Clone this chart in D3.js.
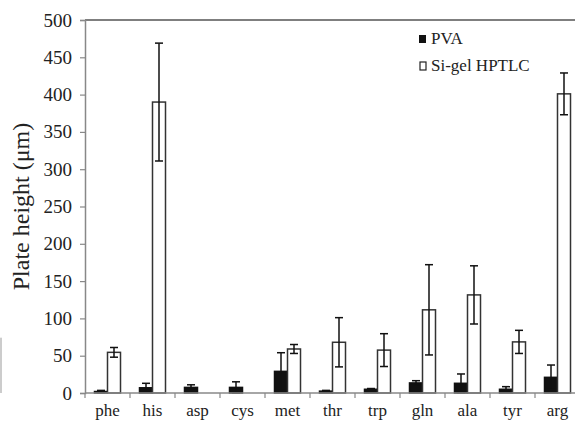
<!DOCTYPE html>
<html><head><meta charset="utf-8">
<script src="https://cdn.jsdelivr.net/npm/d3@7"></script>
<style>body{margin:0;background:#fff}svg{display:block}svg text{font-family:'Liberation Serif','Times New Roman',Times,serif;fill:#222}</style>
</head><body>
<svg id="c" width="575" height="422"></svg>
<script>
const categories = ["phe","his","asp","cys","met","thr","trp","gln","ala","tyr","arg"];
const seriesNames = ["PVA","Si-gel HPTLC"];
const pvaValues = [2, 7, 7.5, 7.5, 29, 2.5, 5, 13.5, 13, 5, 21];
const pvaErrors = [1.5, 6, 3.5, 7.5, 25, 1, 1, 3, 12.5, 3.5, 16.5];
const siValues = [54.5, 390, 0, 0, 59, 68, 57.5, 111.5, 131.5, 68.5, 401];
const siErrors = [6.5, 79, 0, 0, 6, 33, 22, 60.5, 39, 15.5, 28];
const yTicks = [0,50,100,150,200,250,300,350,400,450,500];

const FONT = "'Liberation Serif','Times New Roman',Times,serif";
const svg = d3.select("#c");
const L = 85, R = 580, T = 20, B = 393;
const x = d3.scaleBand().domain(categories).range([L, R]).paddingInner(0);
const barW = 13;
const xs = d3.scaleBand().domain(seriesNames).range([x.bandwidth()/2 - barW, x.bandwidth()/2 + barW]);
const y = d3.scaleLinear().domain([0, 500]).range([B, T]);

// frame top line
svg.append("line").attr("x1", L).attr("x2", 575).attr("y1", T).attr("y2", T)
  .attr("stroke", "#555").attr("stroke-width", 1.5);

// y axis
const ya = svg.append("g").attr("transform", `translate(${L},0)`)
  .call(d3.axisLeft(y).tickValues(yTicks).tickSize(5).tickPadding(8));
ya.attr("font-family", FONT);
ya.select(".domain").attr("stroke", "#888").attr("stroke-width", 1.5);
ya.selectAll(".tick line").attr("stroke", "#888").attr("stroke-width", 1.2);
ya.selectAll(".tick text").attr("font-size", 19).style("font-family", FONT).attr("fill", "#222");

// small artifact line at left edge
svg.append("line").attr("x1", 1).attr("x2", 1).attr("y1", y(50) - 18).attr("y2", y(0))
  .attr("stroke", "#999").attr("stroke-width", 1);

const series = [
  {name: "PVA", vals: pvaValues, errs: pvaErrors, fill: "#111", stroke: "#111"},
  {name: "Si-gel HPTLC", vals: siValues, errs: siErrors, fill: "#fff", stroke: "#333"}
];

series.forEach(s => {
  const g = svg.append("g");
  categories.forEach((c, i) => {
    const v = s.vals[i];
    if (v <= 0) return;
    const x0 = x(c) + xs(s.name);
    g.append("rect").attr("x", x0).attr("y", y(v)).attr("width", barW).attr("height", y(0) - y(v))
      .attr("fill", s.fill).attr("stroke", s.stroke).attr("stroke-width", 1.5);
  });
});

// error bars
series.forEach(s => {
  const g = svg.append("g").attr("stroke", "#111").attr("stroke-width", 1.5);
  categories.forEach((c, i) => {
    const v = s.vals[i], e = s.errs[i];
    if (v <= 0 || e <= 0) return;
    const cx = x(c) + xs(s.name) + barW/2;
    const hi = y(v + e), lo = y(Math.max(0, v - e));
    g.append("line").attr("x1", cx).attr("x2", cx).attr("y1", hi).attr("y2", lo);
    g.append("line").attr("x1", cx - 4).attr("x2", cx + 4).attr("y1", hi).attr("y2", hi);
    g.append("line").attr("x1", cx - 4).attr("x2", cx + 4).attr("y1", lo).attr("y2", lo);
  });
});

// x axis
svg.append("line").attr("x1", L).attr("x2", 575).attr("y1", B).attr("y2", B)
  .attr("stroke", "#888").attr("stroke-width", 1.5);
categories.forEach(c => {
  svg.append("line").attr("x1", x(c)).attr("x2", x(c)).attr("y1", B).attr("y2", B + 5)
    .attr("stroke", "#888").attr("stroke-width", 1.2);
  svg.append("text").attr("x", x(c) + x.bandwidth()/2).attr("y", 416)
    .attr("text-anchor", "middle").attr("font-size", 17).style("font-family", FONT).text(c);
});

// y title
svg.append("text").attr("transform", `translate(29,${(T+B)/2}) rotate(-90)`)
  .attr("text-anchor", "middle").attr("font-size", 24).style("font-family", FONT).text("Plate height (μm)");

// legend
const leg = svg.append("g");
leg.append("rect").attr("x", 419).attr("y", 35).attr("width", 7).attr("height", 8).attr("fill", "#111");
leg.append("text").attr("x", 431).attr("y", 44).attr("font-size", 17).style("font-family", FONT).text(seriesNames[0]);
leg.append("rect").attr("x", 420).attr("y", 62).attr("width", 6).attr("height", 8)
  .attr("fill", "#fff").attr("stroke", "#222").attr("stroke-width", 1.2);
leg.append("text").attr("x", 431).attr("y", 71).attr("font-size", 17).style("font-family", FONT).text(seriesNames[1]);
</script>
</body></html>
